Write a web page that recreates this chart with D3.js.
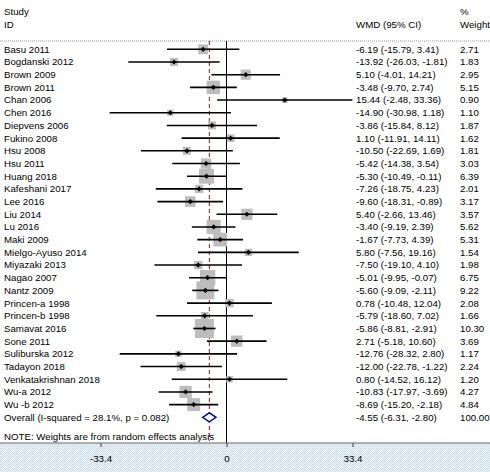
<!DOCTYPE html>
<html>
<head>
<meta charset="utf-8">
<script src="https://cdn.jsdelivr.net/npm/d3@7"></script>
<style>
  body { margin: 0; background: #fff; }
  svg text { font-family: "Liberation Sans", Arial, sans-serif; font-size: 9.7px; fill: #000; }
</style>
</head>
<body>
<div id="chart"></div>
<script>
"use strict";

const studies = [
    'Basu 2011', 'Bogdanski 2012', 'Brown 2009', 'Brown 2011', 'Chan 2006', 'Chen 2016',
    'Diepvens 2006', 'Fukino 2008', 'Hsu 2008', 'Hsu 2011', 'Huang 2018', 'Kafeshani 2017',
    'Lee 2016', 'Liu 2014', 'Lu 2016', 'Maki 2009', 'Mielgo-Ayuso 2014', 'Miyazaki 2013',
    'Nagao 2007', 'Nantz 2009', 'Princen-a 1998', 'Princen-b 1998', 'Samavat 2016',
    'Sone 2011', 'Suliburska 2012', 'Tadayon 2018', 'Venkatakrishnan 2018', 'Wu-a 2012', 'Wu -b 2012'
];
const wmd = [-6.19, -13.92, 5.10, -3.48, 15.44, -14.90, -3.86, 1.10, -10.50, -5.42, -5.30, -7.26,
    -9.60, 5.40, -3.40, -1.67, 5.80, -7.50, -5.01, -5.60, 0.78, -5.79, -5.86, 2.71, -12.76, -12.00,
    0.80, -10.83, -8.69];
const lower = [-15.79, -26.03, -4.01, -9.70, -2.48, -30.98, -15.84, -11.91, -22.69, -14.38, -10.49,
    -18.75, -18.31, -2.66, -9.19, -7.73, -7.56, -19.10, -9.95, -9.09, -10.48, -18.60, -8.81, -5.18,
    -28.32, -22.78, -14.52, -17.97, -15.20];
const upper = [3.41, -1.81, 14.21, 2.74, 33.36, 1.18, 8.12, 14.11, 1.69, 3.54, -0.11, 4.23, -0.89,
    13.46, 2.39, 4.39, 19.16, 4.10, -0.07, -2.11, 12.04, 7.02, -2.91, 10.60, 2.80, -1.22, 16.12,
    -3.69, -2.18];
const weights = [2.71, 1.83, 2.95, 5.15, 0.90, 1.10, 1.87, 1.62, 1.81, 3.03, 6.39, 2.01, 3.17, 3.57,
    5.62, 5.31, 1.54, 1.98, 6.75, 9.22, 2.08, 1.66, 10.30, 3.69, 1.17, 2.24, 1.20, 4.27, 4.84];
const overall = { label: 'Overall  (I-squared = 28.1%, p = 0.082)', wmd: -4.55, lower: -6.31, upper: -2.80, weight: 100.00 };
const ticks = [-33.4, 0, 33.4];

const width = 490, height = 472;
const fmt = v => v.toFixed(2);
const ciText = (m, l, u) => `${fmt(m)} (${fmt(l)}, ${fmt(u)})`;

const rows = studies.map((name, i) => ({
    name, wmd: wmd[i], lower: lower[i], upper: upper[i], weight: weights[i]
}));

const svg = d3.select('#chart').append('svg')
    .attr('width', width)
    .attr('height', height);

const x = d3.scaleLinear().domain([-33.4, 33.4]).range([100.5, 352.5]);
const y = d3.scaleLinear().domain([0, rows.length]).range([49.3, 49.3 + rows.length * 12.69]);
const side = d3.scaleSqrt().domain([0, 10.3]).range([0, 19]);

const topY = 41, axisY = 443;

// ------------------------- Background -------------------------

const pattern = svg.append('defs').append('pattern')
    .attr('id', 'dots')
    .attr('width', 2)
    .attr('height', 2)
    .attr('patternUnits', 'userSpaceOnUse');
pattern.append('rect').attr('width', 2).attr('height', 2).attr('fill', '#eef4f8');
pattern.append('rect').attr('width', 1).attr('height', 1).attr('fill', '#c3d9e8');
pattern.append('rect').attr('x', 1).attr('y', 1).attr('width', 1).attr('height', 1).attr('fill', '#d3e2ec');

svg.append('rect')
    .attr('x', 0).attr('y', axisY)
    .attr('width', width).attr('height', height - axisY)
    .attr('fill', 'url(#dots)');

// ------------------------- Headers -------------------------

svg.append('text').attr('x', 4).attr('y', 12).attr('dy', '0.35em').text('Study');
svg.append('text').attr('x', 4).attr('y', 24.5).attr('dy', '0.35em').text('ID');
svg.append('text').attr('x', 356).attr('y', 24.5).attr('dy', '0.35em').text('WMD (95% CI)');
svg.append('text').attr('x', 460).attr('y', 12).attr('dy', '0.35em').text('%');
svg.append('text').attr('x', 460).attr('y', 24.5).attr('dy', '0.35em').text('Weight');

svg.append('line')
    .attr('x1', 0).attr('x2', width)
    .attr('y1', topY).attr('y2', topY)
    .attr('stroke', '#999')
    .attr('stroke-dasharray', '1,1');

// ------------------------- Reference lines -------------------------

svg.append('line')
    .attr('x1', x(0)).attr('x2', x(0))
    .attr('y1', topY).attr('y2', axisY)
    .attr('stroke', '#000')
    .attr('stroke-width', 1);

svg.append('line')
    .attr('x1', x(overall.wmd)).attr('x2', x(overall.wmd))
    .attr('y1', topY).attr('y2', axisY - 2)
    .attr('stroke', '#8b1a1a')
    .attr('stroke-width', 1)
    .attr('stroke-dasharray', '4,3');

// ------------------------- Study rows -------------------------

const row = svg.selectAll('.study-row')
    .data(rows)
    .enter()
    .append('g')
    .classed('study-row', true)
    .attr('transform', (d, i) => `translate(0,${y(i)})`);

row.append('rect')
    .attr('x', d => x(d.wmd) - side(d.weight) / 2)
    .attr('y', d => -side(d.weight) / 2)
    .attr('width', d => side(d.weight))
    .attr('height', d => side(d.weight))
    .attr('fill', '#bdbdbd');

row.append('line')
    .attr('x1', d => x(d.lower))
    .attr('x2', d => x(d.upper))
    .attr('stroke', '#000')
    .attr('stroke-width', 1.6);

row.append('path')
    .attr('d', d => `M${x(d.wmd)},-2.6L${x(d.wmd) + 2.6},0L${x(d.wmd)},2.6L${x(d.wmd) - 2.6},0Z`)
    .attr('fill', '#000');

row.append('text')
    .attr('x', 4)
    .attr('dy', '0.35em')
    .text(d => d.name);

row.append('text')
    .attr('x', 356)
    .attr('dy', '0.35em')
    .text(d => ciText(d.wmd, d.lower, d.upper));

row.append('text')
    .attr('x', 460)
    .attr('dy', '0.35em')
    .text(d => fmt(d.weight));

// ------------------------- Overall -------------------------

const oy = y(rows.length);
const og = svg.append('g').attr('transform', `translate(0,${oy})`);

og.append('path')
    .attr('d', `M${x(overall.lower)},0L${x(overall.wmd)},-4.5L${x(overall.upper)},0L${x(overall.wmd)},4.5Z`)
    .attr('fill', '#fff')
    .attr('stroke', '#0a1a80')
    .attr('stroke-width', 1.6);

og.append('text').attr('x', 4).attr('dy', '0.35em').text(overall.label);
og.append('text').attr('x', 356).attr('dy', '0.35em').text(ciText(overall.wmd, overall.lower, overall.upper));
og.append('text').attr('x', 460).attr('dy', '0.35em').text(fmt(overall.weight));

svg.append('text')
    .attr('x', 4)
    .attr('y', 436.5)
    .attr('dy', '0.35em')
    .text('NOTE: Weights are from random effects analysis');

// ------------------------- Axis -------------------------

const axis = svg.append('g')
    .attr('transform', `translate(0,${axisY})`)
    .call(d3.axisBottom(x).tickValues(ticks).tickSize(4).tickFormat(d => d === 0 ? '0' : d.toFixed(1)));

axis.select('.domain').remove();
axis.selectAll('.tick line').attr('stroke', '#333');
axis.selectAll('.tick text')
    .attr('font-size', 9.7)
    .attr('font-family', '"Liberation Sans", Arial, sans-serif')
    .attr('fill', '#000')
    .attr('y', 12);

svg.append('line')
    .attr('x1', 0).attr('x2', width)
    .attr('y1', axisY).attr('y2', axisY)
    .attr('stroke', '#666');
</script>
</body>
</html>
